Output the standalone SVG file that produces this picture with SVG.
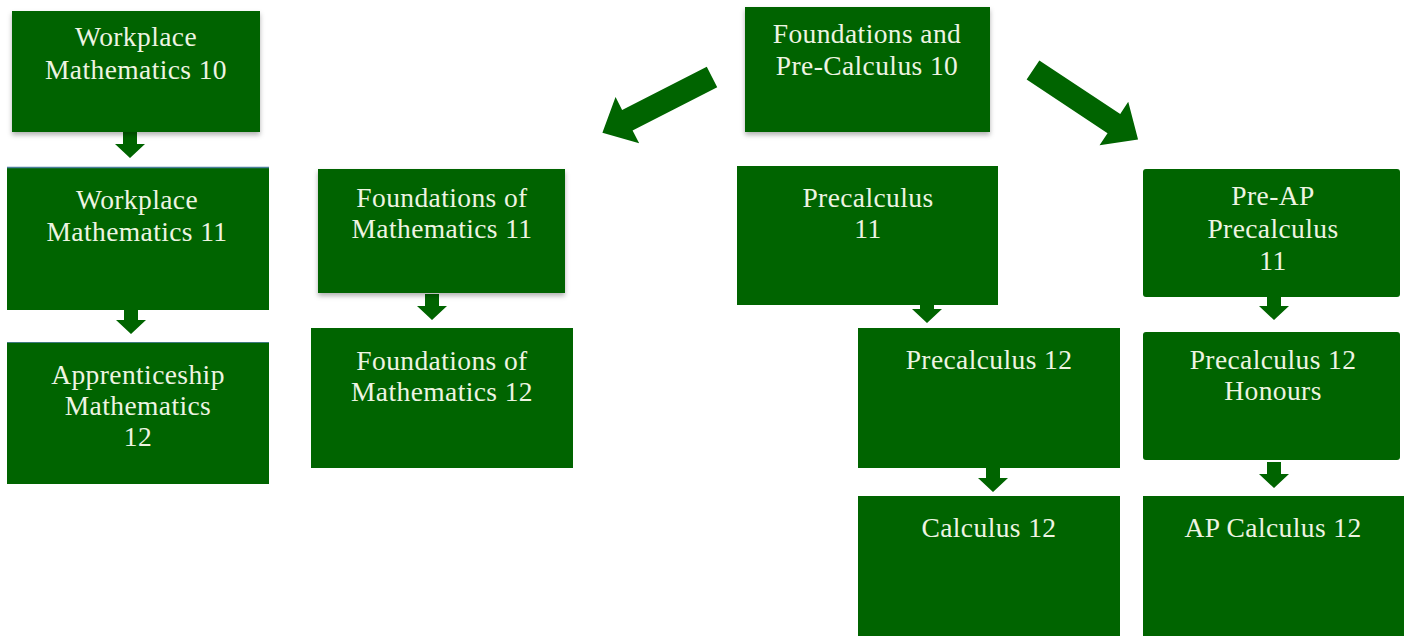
<svg xmlns="http://www.w3.org/2000/svg" xmlns:xlink="http://www.w3.org/1999/xlink" width="1404" height="636" viewBox="0 0 1404 636">
<style>
.box{fill:#006400;}
.sh{filter:url(#shadow);}
.t{font-family:"Liberation Serif","Times New Roman",serif;font-size:27.5px;letter-spacing:0.4px;fill:#eef4e2;text-anchor:middle;}
.arr{fill:#006400;}
</style>
<defs>
<filter id="shadow" x="-10%" y="-10%" width="120%" height="130%">
<feDropShadow dx="0" dy="3" stdDeviation="2.5" flood-color="#000" flood-opacity="0.3"/>
</filter>
<path id="sa" d="M-7,-26 L7,-26 L7,-14 L15,-14 L0,0 L-15,-14 L-7,-14 Z"/>
</defs>
<rect width="1404" height="636" fill="#ffffff"/>

<g id="connectors">
<polygon class="arr" points="0,-11.5 95,-11.5 95,-26 123,0 95,26 95,11.5 0,11.5" transform="translate(712,77) rotate(153)"/>
<polygon class="arr" points="0,-11.5 97,-11.5 97,-26 126,0 97,26 97,11.5 0,11.5" transform="translate(1033,70) rotate(33.5)"/>
<use xlink:href="#sa" href="#sa" class="arr" x="130" y="158"/>
<use xlink:href="#sa" href="#sa" class="arr" x="131" y="334"/>
<use xlink:href="#sa" href="#sa" class="arr" x="432" y="320"/>
<use xlink:href="#sa" href="#sa" class="arr" x="927" y="323"/>
<use xlink:href="#sa" href="#sa" class="arr" x="993" y="492"/>
<use xlink:href="#sa" href="#sa" class="arr" x="1274" y="320"/>
<use xlink:href="#sa" href="#sa" class="arr" x="1274" y="488"/>
</g>

<g id="workplace10">
<rect class="box sh" x="12" y="11" width="248" height="121"/>
<text class="t" x="136" y="46">Workplace</text>
<text class="t" x="136" y="79">Mathematics 10</text>
</g>

<g id="workplace11">
<rect class="box" x="7" y="167" width="262" height="143"/>
<line x1="7" y1="167.5" x2="269" y2="167.5" stroke="#4a7f9a" stroke-width="1.5"/>
<text class="t" x="137" y="209">Workplace</text>
<text class="t" x="137" y="241">Mathematics 11</text>
</g>

<g id="apprenticeship12">
<rect class="box" x="7" y="342" width="262" height="142"/>
<line x1="7" y1="342.5" x2="269" y2="342.5" stroke="#3f7a80" stroke-width="1"/>
<text class="t" x="138" y="384">Apprenticeship</text>
<text class="t" x="138" y="415">Mathematics</text>
<text class="t" x="138" y="446">12</text>
</g>

<g id="foundations11">
<rect class="box sh" x="318" y="169" width="247" height="124"/>
<text class="t" x="442" y="207">Foundations of</text>
<text class="t" x="442" y="238">Mathematics 11</text>
</g>

<g id="foundations12">
<rect class="box" x="311" y="328" width="262" height="140"/>
<text class="t" x="442" y="370">Foundations of</text>
<text class="t" x="442" y="401">Mathematics 12</text>
</g>

<g id="fpc10">
<rect class="box sh" x="745" y="7" width="245" height="125"/>
<text class="t" x="867" y="43">Foundations and</text>
<text class="t" x="867" y="75">Pre-Calculus 10</text>
</g>

<g id="precalc11">
<rect class="box" x="737" y="166" width="261" height="139"/>
<text class="t" x="868" y="207">Precalculus</text>
<text class="t" x="868" y="238">11</text>
</g>

<g id="precalc12">
<rect class="box" x="858" y="328" width="262" height="140"/>
<text class="t" x="989" y="369">Precalculus 12</text>
</g>

<g id="calculus12">
<rect class="box" x="858" y="496" width="262" height="140"/>
<text class="t" x="989" y="537">Calculus 12</text>
</g>

<g id="preap11">
<rect class="box" x="1143" y="169" width="257" height="128" rx="3"/>
<text class="t" x="1273" y="205">Pre-AP</text>
<text class="t" x="1273" y="238">Precalculus</text>
<text class="t" x="1273" y="270">11</text>
</g>

<g id="precalc12h">
<rect class="box" x="1143" y="332" width="257" height="128" rx="3"/>
<text class="t" x="1273" y="369">Precalculus 12</text>
<text class="t" x="1273" y="400">Honours</text>
</g>

<g id="apcalc12">
<rect class="box" x="1143" y="496" width="261" height="140"/>
<text class="t" x="1273" y="537">AP Calculus 12</text>
</g>
</svg>
